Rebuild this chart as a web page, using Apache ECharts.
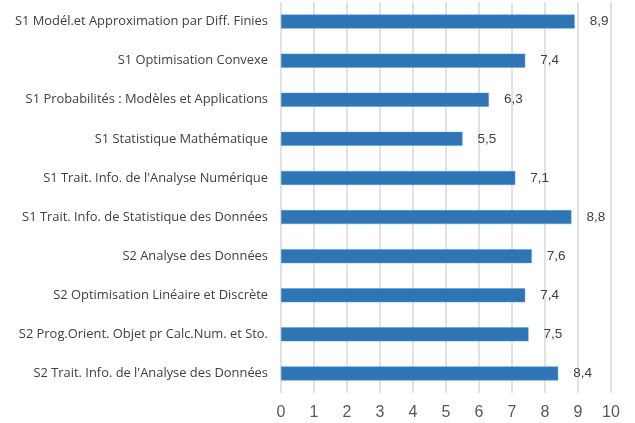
<!DOCTYPE html>
<html><head><meta charset="utf-8">
<script src="https://cdn.jsdelivr.net/npm/echarts@6/dist/echarts.min.js"></script>
<style>html,body{margin:0;padding:0;background:#fff}#c{width:635px;height:423px}</style>
</head><body><div id="c"></div>
<script>
const categories = [
  "S1 Modél.et Approximation par Diff. Finies",
  "S1 Optimisation Convexe",
  "S1 Probabilités : Modèles et Applications",
  "S1 Statistique Mathématique",
  "S1 Trait. Info. de l'Analyse Numérique",
  "S1 Trait. Info. de Statistique des Données",
  "S2 Analyse des Données",
  "S2 Optimisation Linéaire et Discrète",
  "S2 Prog.Orient. Objet pr Calc.Num. et Sto.",
  "S2 Trait. Info. de l'Analyse des Données"
];
const values = [8.9, 7.4, 6.3, 5.5, 7.1, 8.8, 7.6, 7.4, 7.5, 8.4];
const xTicks = [0,1,2,3,4,5,6,7,8,9,10];

const chart = echarts.init(document.getElementById('c'), null, {renderer:'canvas'});
chart.setOption({
  animation:false,
  grid:{left:281,right:24,top:2,bottom:30,containLabel:false},
  xAxis:{type:'value',min:xTicks[0],max:xTicks[xTicks.length-1],interval:1,
    axisLine:{show:false},axisTick:{show:false},
    splitLine:{show:true,lineStyle:{color:'#d9d9d9',width:1.5}},
    axisLabel:{color:'#595959',fontSize:16,fontFamily:'Liberation Sans',margin:12}},
  yAxis:{type:'category',data:categories,inverse:true,
    axisLine:{show:false},axisTick:{show:false},
    axisLabel:{color:'#404040',fontSize:12.9,fontFamily:'Open Sans',margin:13}},
  series:[{type:'bar',data:values,barWidth:14,
    itemStyle:{color:'#2E75B6',borderColor:'#5B9BD5',borderWidth:0.5},
    label:{show:true,position:'right',distance:15,color:'#404040',fontSize:13.5,fontFamily:'Liberation Sans',
      formatter:p=>String(p.value).replace('.',',')}}]
});
</script></body></html>
